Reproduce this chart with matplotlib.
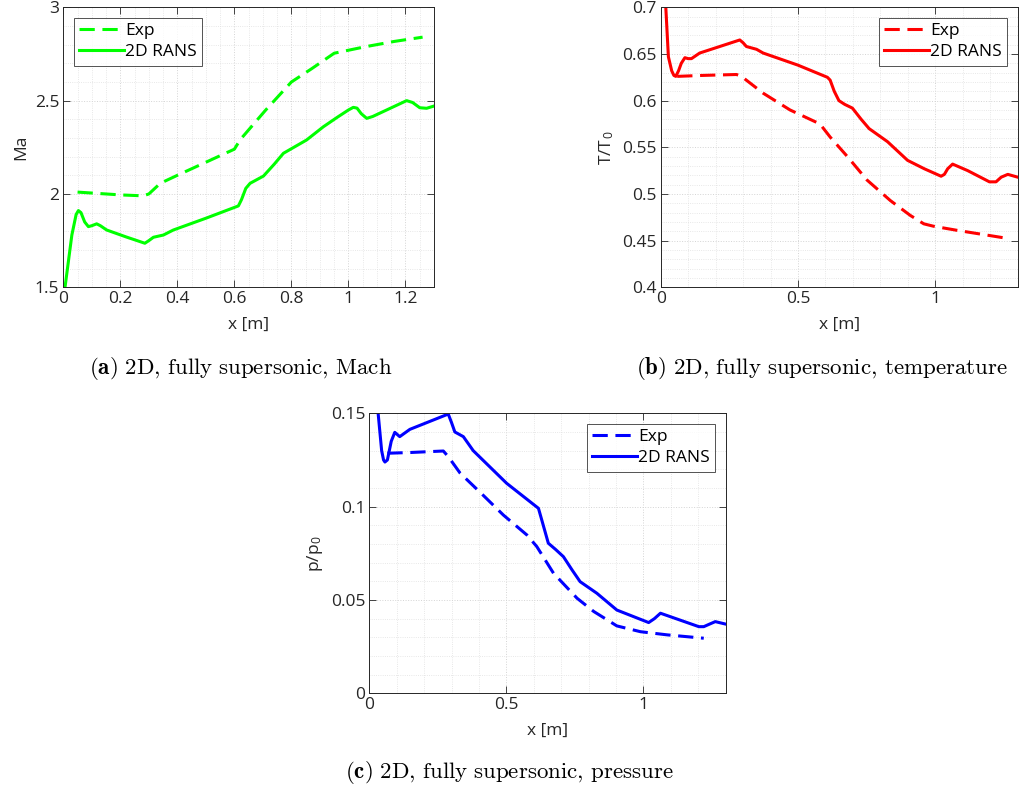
import matplotlib
matplotlib.use("Agg")
import matplotlib.pyplot as plt
from matplotlib.ticker import MultipleLocator, FormatStrFormatter

plt.rcParams["font.family"] = ["Open Sans", "DejaVu Sans"]
plt.rcParams["mathtext.fontset"] = "cm"

# --- Mach number ---
ma_exp_x = [0.05, 0.10, 0.20, 0.28, 0.30, 0.34, 0.40, 0.50, 0.60, 0.62, 0.71, 0.80, 0.87, 0.95, 1.00, 1.06, 1.16, 1.26]
ma_exp_y = [2.01, 2.005, 1.995, 1.99, 2.0, 2.057, 2.10, 2.17, 2.24, 2.29, 2.45, 2.60, 2.67, 2.754, 2.77, 2.789, 2.817, 2.84]
ma_rans_x = [0.006, 0.03, 0.045, 0.053, 0.062, 0.075, 0.088, 0.10, 0.117, 0.13, 0.152, 0.22, 0.286, 0.30, 0.316, 0.351,
             0.386, 0.50, 0.614, 0.625, 0.64, 0.655, 0.702, 0.74, 0.772, 0.853, 0.912, 0.96, 1.0, 1.017, 1.03, 1.045,
             1.064, 1.085, 1.134, 1.204, 1.225, 1.25, 1.274, 1.30]
ma_rans_y = [1.5, 1.78, 1.89, 1.911, 1.9, 1.85, 1.825, 1.83, 1.84, 1.83, 1.807, 1.77, 1.736, 1.75, 1.768, 1.78,
             1.807, 1.87, 1.936, 1.97, 2.03, 2.057, 2.096, 2.16, 2.218, 2.289, 2.36, 2.41, 2.45, 2.464, 2.46, 2.43,
             2.405, 2.415, 2.45, 2.50, 2.49, 2.462, 2.459, 2.471]

# --- temperature ---
t_exp_x = [0.06, 0.15, 0.276, 0.294, 0.373, 0.471, 0.58, 0.617, 0.68, 0.751, 0.836, 0.909, 0.958, 0.994, 1.08, 1.25]
t_exp_y = [0.626, 0.627, 0.628, 0.626, 0.608, 0.59, 0.575, 0.561, 0.54, 0.515, 0.493, 0.477, 0.468, 0.4654, 0.461, 0.453]
t_rans_x = [0.015, 0.028, 0.04, 0.048, 0.055, 0.065, 0.075, 0.088, 0.1, 0.112, 0.142, 0.288, 0.30, 0.312, 0.349,
            0.373, 0.50, 0.607, 0.617, 0.632, 0.649, 0.67, 0.698, 0.73, 0.759, 0.826, 0.899, 0.96, 1.021, 1.033,
            1.045, 1.063, 1.118, 1.197, 1.221, 1.24, 1.264, 1.30]
t_rans_y = [0.72, 0.647, 0.632, 0.627, 0.626, 0.632, 0.64, 0.646, 0.645, 0.645, 0.651, 0.665, 0.662, 0.658, 0.655,
            0.651, 0.638, 0.625, 0.622, 0.61, 0.600, 0.596, 0.592, 0.58, 0.57, 0.556, 0.536, 0.527, 0.519, 0.521,
            0.527, 0.532, 0.525, 0.513, 0.513, 0.518, 0.521, 0.518]

# --- pressure ---
p_exp_x = [0.066, 0.15, 0.27, 0.288, 0.331, 0.416, 0.489, 0.575, 0.611, 0.672, 0.758, 0.819, 0.903, 0.989, 1.087, 1.22]
p_exp_y = [0.1286, 0.129, 0.1298, 0.1268, 0.118, 0.106, 0.0955, 0.0848, 0.0786, 0.0643, 0.0509, 0.0438, 0.0361, 0.033, 0.0313, 0.0295]
p_rans_x = [0.029, 0.045, 0.052, 0.057, 0.066, 0.08, 0.093, 0.111, 0.148, 0.288, 0.30, 0.312, 0.343, 0.379, 0.501,
            0.617, 0.629, 0.653, 0.68, 0.708, 0.74, 0.769, 0.83, 0.903, 1.019, 1.04, 1.062, 1.202, 1.22, 1.24,
            1.262, 1.299]
p_rans_y = [0.155, 0.130, 0.125, 0.1239, 0.125, 0.135, 0.1398, 0.1375, 0.1414, 0.1496, 0.145, 0.140, 0.1375, 0.130,
            0.1125, 0.0991, 0.0929, 0.0804, 0.077, 0.0732, 0.066, 0.0598, 0.0536, 0.0446, 0.0379, 0.040, 0.0429,
            0.0357, 0.0357, 0.037, 0.0384, 0.0371]

W, H = 1035, 793
fig = plt.figure(figsize=(W / 100, H / 100), dpi=100)

axc = "#262626"
fs = 12.5


def panel(rect, ex, ey, rx, ry, color, ylim, ymaj, ymin, xmaj, xmin, ylabel, legloc):
    ax = fig.add_axes(rect)
    ax.plot(ex, ey, color=color, lw=2.2, dashes=(5, 2.5), label="Exp")
    ax.plot(rx, ry, color=color, lw=2.2, label="2D RANS", solid_joinstyle="round")
    ax.set_xlim(0, 1.3)
    ax.set_ylim(*ylim)
    ax.xaxis.set_major_locator(MultipleLocator(xmaj))
    ax.xaxis.set_minor_locator(MultipleLocator(xmin))
    ax.yaxis.set_major_locator(MultipleLocator(ymaj))
    ax.yaxis.set_minor_locator(MultipleLocator(ymin))
    ax.xaxis.set_major_formatter(FormatStrFormatter("%g"))
    ax.yaxis.set_major_formatter(FormatStrFormatter("%g"))
    ax.grid(which="major", color="#d4d4d4", ls=":", lw=0.7)
    ax.grid(which="minor", color="#e0e0e0", ls=":", lw=0.6)
    ax.tick_params(which="major", direction="in", top=True, right=True, length=5,
                   width=0.6, colors=axc, labelsize=fs, labelcolor=axc, pad=3)
    ax.tick_params(which="minor", length=0)
    for s in ax.spines.values():
        s.set_color(axc)
        s.set_linewidth(0.7)
    ax.set_xlabel("x [m]", fontsize=fs, color=axc, labelpad=7)
    ax.set_ylabel(ylabel, fontsize=fs, color=axc, labelpad=4)
    leg = ax.legend(loc=legloc, fontsize=fs, handlelength=2.6, handletextpad=0.05,
                    fancybox=False, borderpad=0.3, labelspacing=0.3, borderaxespad=0.6)
    leg.get_frame().set_edgecolor(axc)
    leg.get_frame().set_linewidth(0.7)
    return ax


panel([63.3 / W, 1 - 287.3 / H, 370.7 / W, 280 / H], ma_exp_x, ma_exp_y, ma_rans_x, ma_rans_y,
      "#00ff00", (1.5, 3.0), 0.5, 0.1, 0.2, 0.05, "Ma", "upper left")
panel([660.7 / W, 1 - 287.3 / H, 357 / W, 280 / H], t_exp_x, t_exp_y, t_rans_x, t_rans_y,
      "#ff0000", (0.4, 0.7), 0.05, 0.01, 0.5, 0.1, r"T/T$_{\mathregular{0}}$", "upper right")
panel([369.3 / W, 1 - 693.3 / H, 356.4 / W, 280 / H], p_exp_x, p_exp_y, p_rans_x, p_rans_y,
      "#0000ff", (0.0, 0.15), 0.05, 0.01, 0.5, 0.1, r"p/p$_{\mathregular{0}}$", "upper right")

cap = dict(fontsize=16.5, ha="center", va="center")
fig.text(241 / W, 1 - 368 / H, r"$\mathbf{(a)}\ \mathrm{2D,}\,\mathrm{fully\ supersonic,}\,\mathrm{Mach}$", **cap)
fig.text(822 / W, 1 - 368 / H, r"$\mathbf{(b)}\ \mathrm{2D,}\,\mathrm{fully\ supersonic,}\,\mathrm{temperature}$", **cap)
fig.text(509 / W, 1 - 773 / H, r"$\mathbf{(c)}\ \mathrm{2D,}\,\mathrm{fully\ supersonic,}\,\mathrm{pressure}$", **cap)

fig.savefig("out.png", dpi=100)
